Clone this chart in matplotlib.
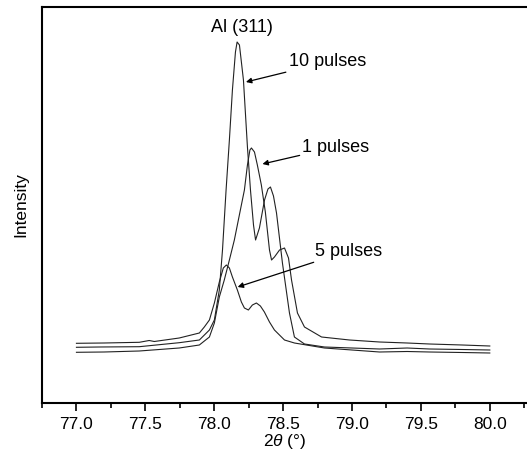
import matplotlib.pyplot as plt
from matplotlib.ticker import MultipleLocator

plt.rcParams['font.family'] = ['Liberation Sans', 'DejaVu Sans']
plt.rcParams['mathtext.fontset'] = 'custom'
plt.rcParams['mathtext.it'] = 'Liberation Sans:italic'
plt.rcParams['mathtext.rm'] = 'Liberation Sans'

# XRD scans around Al (311) (intensity in a.u.)
two_theta_10 = [77.0, 77.165, 77.456, 77.746, 77.892, 77.965, 78.001, 78.037, 78.06, 78.086,
                78.11, 78.132, 78.154, 78.166, 78.183, 78.212, 78.241, 78.263, 78.285, 78.3,
                78.328, 78.365, 78.39, 78.408, 78.43, 78.452, 78.495, 78.546, 78.582, 78.655,
                78.8, 79.0, 79.2, 79.4, 79.563, 79.8, 80.0]
int_10 = [55.7, 56, 56.3, 60.3, 63, 73, 83, 113, 153, 213,
          263, 313, 351, 361, 358, 323, 256, 213, 178, 163,
          175, 203, 214, 216, 207, 190, 140, 90, 66, 59,
          56, 55, 54, 55, 54, 53.5, 53]

two_theta_1 = [77.0, 77.2, 77.456, 77.746, 77.892, 77.965, 78.001, 78.037, 78.073, 78.11,
               78.146, 78.197, 78.219, 78.241, 78.259, 78.27, 78.292, 78.313, 78.342, 78.371,
               78.401, 78.416, 78.437, 78.474, 78.51, 78.539, 78.561, 78.604, 78.655, 78.779,
               78.982, 79.2, 79.4, 79.563, 79.8, 80.0]
int_1 = [50.7, 51, 52, 55, 58, 66, 80, 106, 123, 143,
         163, 198, 213, 238, 253, 255, 251, 238, 218, 191,
         153, 143, 146, 153, 155, 145, 123, 90, 76, 66,
         63, 61, 60, 59, 58, 57]

two_theta_5 = [77.0, 77.2, 77.456, 77.528, 77.565, 77.746, 77.892, 77.928, 77.965, 78.001,
               78.037, 78.066, 78.088, 78.11, 78.132, 78.168, 78.197, 78.219, 78.248, 78.277,
               78.306, 78.335, 78.364, 78.401, 78.437, 78.51, 78.582, 78.8, 79.0, 79.2,
               79.4, 79.563, 79.8, 80.0]
int_5 = [59.7, 60, 60.7, 62.5, 61.5, 65, 70, 76, 83, 100,
         121, 135, 138, 135, 126, 113, 101, 95, 93, 98,
         100, 97, 91, 81, 73, 63, 60, 55, 53, 51,
         51.5, 51, 50.5, 50]

fig = plt.figure(figsize=(5.27, 4.59), dpi=100)
ax = fig.add_axes([42 / 527, 1 - 403 / 459, 1 - 42 / 527, 396 / 459])

line_kw = dict(color='#222222', lw=0.8)
ax.plot(two_theta_10, int_10, **line_kw)
ax.plot(two_theta_1, int_1, **line_kw)
ax.plot(two_theta_5, int_5, **line_kw)

ax.set_xlim(76.75, 80.27)
ax.set_ylim(0, 396)
ax.xaxis.set_major_locator(MultipleLocator(0.5))
ax.xaxis.set_minor_locator(MultipleLocator(0.25))
ax.xaxis.set_major_formatter(plt.FormatStrFormatter('%.1f'))
ax.tick_params(axis='x', which='major', direction='out', length=6, width=1.2, labelsize=12.5, pad=4)
ax.tick_params(axis='x', which='minor', direction='out', length=3.5, width=1.2)
ax.set_yticks([])
for side in ['left', 'bottom', 'top']:
    ax.spines[side].set_linewidth(1.5)
ax.spines['right'].set_visible(False)

ax.set_xlabel(r'2$\theta$ (°)', fontsize=12.5, labelpad=0)
ax.set_ylabel('Intensity', fontsize=12.5, labelpad=10)

ax.text(78.2, 375, 'Al (311)', fontsize=13, ha='center', va='center')

arrow = dict(arrowstyle='-|>', color='black', lw=0.9, mutation_scale=8, shrinkA=0, shrinkB=0)
ax.annotate('10 pulses', xy=(78.23, 321), xytext=(78.54, 341),
            fontsize=13, va='center', ha='left', arrowprops=arrow)
ax.annotate('1 pulses', xy=(78.35, 239), xytext=(78.64, 256),
            fontsize=13, va='center', ha='left', arrowprops=arrow)
ax.annotate('5 pulses', xy=(78.17, 116), xytext=(78.73, 152),
            fontsize=13, va='center', ha='left', arrowprops=arrow)

fig.savefig('out.png', dpi=100)
